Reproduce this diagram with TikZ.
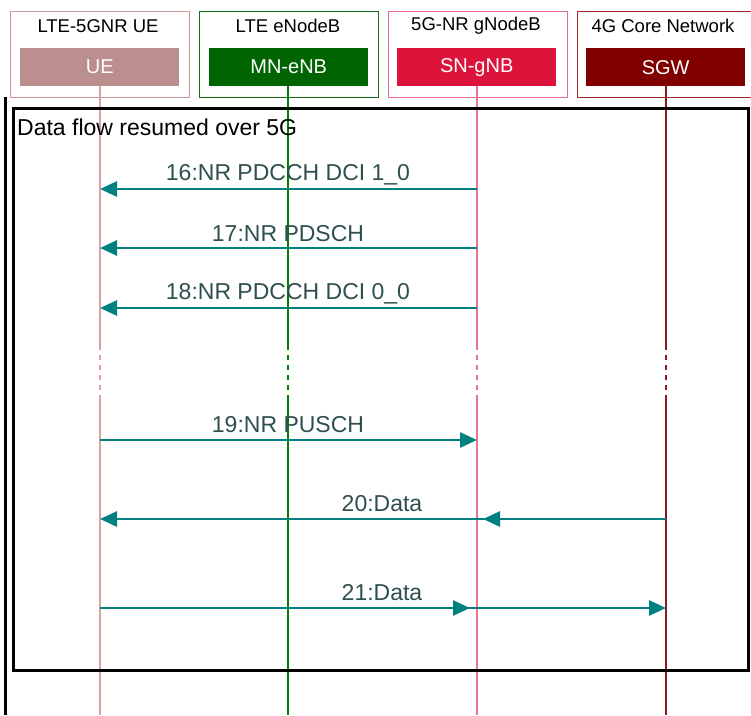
\documentclass[tikz,border=0pt]{standalone}
\usepackage{fontspec}
\setmainfont{Liberation Sans}
\usetikzlibrary{arrows.meta}
\definecolor{ueF}{RGB}{188,143,143}
\definecolor{ueB}{RGB}{205,150,150}
\definecolor{ueL}{RGB}{220,160,160}
\definecolor{mnF}{RGB}{0,100,0}
\definecolor{mnB}{RGB}{20,110,20}
\definecolor{mnL}{RGB}{0,128,0}
\definecolor{snF}{RGB}{220,20,60}
\definecolor{snB}{RGB}{232,110,135}
\definecolor{snL}{RGB}{235,115,145}
\definecolor{sgF}{RGB}{128,0,0}
\definecolor{sgB}{RGB}{160,40,40}
\definecolor{sgL}{RGB}{140,25,25}
\definecolor{msg}{RGB}{0,128,128}
\definecolor{lbl}{RGB}{47,79,79}
\tikzset{
  x=1pt, y=-1pt,
  outerbox/.style={draw=#1, line width=1pt, minimum width=179pt, minimum height=86pt, anchor=north west, inner sep=0pt},
  innerbox/.style={fill=#1, minimum width=159pt, minimum height=38pt, anchor=north west, inner sep=0pt, text=white, font=\fontsize{20}{22}\selectfont},
  title/.style={font=\fontsize{18.5}{20}\selectfont, anchor=center},
  lifeline/.style={draw=#1, line width=1.3pt},
  msgarrow/.style={draw=msg, line width=2.8pt, -{Triangle[length=17pt,width=15pt]}},
  msgline/.style={draw=msg, line width=2.8pt},
  msglabel/.style={text=lbl, font=\fontsize{23}{25}\selectfont, anchor=center, inner sep=0pt},
}
\begin{document}
\begin{tikzpicture}
\clip (0,0) rectangle (751,715);
\fill[white] (0,0) rectangle (751,715);
% header boxes
\node[outerbox=ueB] (ueo) at (10,11) {};
\node[outerbox=mnB] (mno) at (199,11) {};
\node[outerbox=snB] (sno) at (388,11) {};
\node[outerbox=sgB, minimum width=185pt] (sgo) at (577,11) {};
\node[title] (uet) at (98,26) {LTE-5GNR UE};
\node[title] (mnt) at (288,26) {LTE eNodeB};
\node[title] (snt) at (476,26) {5G-NR gNodeB};
\node[title] (sgt) at (663,26) {4G Core Network};
\node[innerbox=ueF] (UE) at (20,48) {UE};
\node[innerbox=mnF] (MN) at (209,48) {MN-eNB};
\node[innerbox=snF] (SN) at (397,48) {SN-gNB};
\node[innerbox=sgF] (SG) at (586,48) {SGW};
% lifelines
\foreach \n/\c/\x in {UE/ueL/100, MN/mnL/288, SN/snL/477, SG/sgL/666}{
  \draw[lifeline=\c] (\x,86) -- (\x,345);
  \draw[lifeline=\c, dash pattern=on 5pt off 5pt] (\x,345) -- (\x,395);
  \draw[lifeline=\c] (\x,395) -- (\x,715);
}
% frame
\draw[line width=3pt] (5,97) -- (5,715);
\draw[line width=3pt] (13,108) rectangle (748,670);
\node[anchor=west, font=\fontsize{23}{25}\selectfont, inner sep=0pt] (fl) at (17,127) {Data flow resumed over 5G};
% message coordinates
\foreach \k/\y in {16/189, 17/248, 18/308, 19/440, 20/519, 21/608}{
  \coordinate (ue\k) at (100,\y);
  \coordinate (sn\k) at (477,\y);
  \coordinate (sg\k) at (666,\y);
}
\draw[msgarrow] (sn16) -- (ue16);
\node[msglabel] (l16) at (288,175) {16:NR PDCCH DCI 1\_0};
\draw[msgarrow] (sn17) -- (ue17);
\node[msglabel] (l17) at (288,234) {17:NR PDSCH};
\draw[msgarrow] (sn18) -- (ue18);
\node[msglabel] (l18) at (288,294) {18:NR PDCCH DCI 0\_0};
\draw[msgarrow] (ue19) -- (sn19);
\node[msglabel] (l19) at (288,425) {19:NR PUSCH};
\draw[msgarrow, shorten >=6pt] (sg20) -- (sn20);
\draw[msgarrow, shorten <=-8pt] (sn20) -- (ue20);
\node[msglabel] (l20) at (382,504) {20:Data};
\draw[msgarrow, shorten >=7pt] (ue21) -- (sn21);
\draw[msgarrow, shorten <=-9pt] (sn21) -- (sg21);
\node[msglabel] (l21) at (382,593) {21:Data};
\end{tikzpicture}
\end{document}
